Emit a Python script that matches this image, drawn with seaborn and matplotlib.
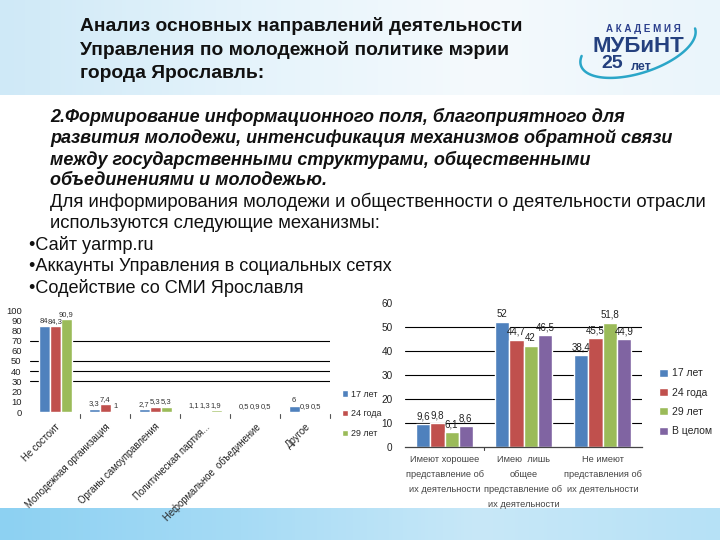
import numpy as np
import pandas as pd
import matplotlib
matplotlib.use("Agg")
import matplotlib.pyplot as plt
import seaborn as sns
from matplotlib.colors import LinearSegmentedColormap

sns.set_theme(style="white")
plt.rcParams['font.family'] = ['Liberation Sans', 'DejaVu Sans']

# ---- data ----
left_categories = ["Не состоит", "Молодежная организация", "Органы самоуправления",
                   "Политическая партия...", "Неформальное  объединение", "Другое"]
left_series = ["17 лет", "24 года", "29 лет"]
left_17 = [84, 3.3, 2.7, 1.1, 0.5, 6]
left_24 = [84.3, 7.4, 5.3, 1.3, 0.9, 0.9]
left_29 = [90.9, 1, 5.3, 1.9, 0.5, 0.5]
left_yticks = [0, 10, 20, 30, 40, 50, 60, 70, 80, 90, 100]

right_categories = ["Имеют хорошее\nпредставление об\nих деятельности",
                    "Имею  лишь\nобщее\nпредставление об\nих деятельности",
                    "Не имеют\nпредставления об\nих деятельности"]
right_series = ["17 лет", "24 года", "29 лет", "В целом"]
right_17 = [9.6, 52, 38.4]
right_24 = [9.8, 44.7, 45.5]
right_29 = [6.1, 42, 51.8]
right_all = [8.6, 46.5, 44.9]
right_yticks = [0, 10, 20, 30, 40, 50, 60]

colors = ["#4F81BD", "#C0504D", "#9BBB59", "#8064A2"]

def fmt(v):
    if float(v).is_integer():
        return str(int(v))
    return str(v).replace('.', ',')

fig = plt.figure(figsize=(7.2, 5.4), dpi=100)

# ---- background ----
bg = fig.add_axes([0, 0, 1, 1], zorder=-10)
bg.set_xlim(0, 720); bg.set_ylim(540, 0); bg.axis('off')
grad = np.linspace(0, 1, 200)[None, :]
cm_top = LinearSegmentedColormap.from_list("t", ["#cfe9f7", "#e4f3fb", "#f5fafd", "#eaf5fb"])
bg.imshow(grad, extent=[0, 720, 95, 0], cmap=cm_top, aspect='auto')
cm_bot = LinearSegmentedColormap.from_list("b", ["#8dd1f2", "#a6dbf5", "#c8e8f8", "#b6e1f6"])
bg.imshow(grad, extent=[0, 720, 540, 508], cmap=cm_bot, aspect='auto')

# ---- texts ----
title = ["Анализ основных направлений деятельности",
         "Управления по молодежной политике мэрии",
         "города Ярославль:"]
for i, t in enumerate(title):
    fig.text(80/720, 1 - (26 + i*24)/540, t, fontsize=13.9, fontweight='bold',
             color='#111111', va='center', ha='left')

body_bi = ["2.Формирование информационного поля, благоприятного для",
           "развития молодежи, интенсификация механизмов обратной связи",
           "между государственными структурами, общественными",
           "объединениями и молодежью."]
for i, t in enumerate(body_bi):
    fig.text(50/720, 1 - (117 + i*21.3)/540, t, fontsize=13.0, fontweight='bold',
             fontstyle='italic', color='#111111', va='center', ha='left')
body = ["Для информирования молодежи и общественности о деятельности отрасли",
        "используются следующие механизмы:"]
for i, t in enumerate(body):
    fig.text(50/720, 1 - (202 + i*21.3)/540, t, fontsize=13.3, color='#111111',
             va='center', ha='left')
bullets = ["•Сайт yarmp.ru", "•Аккаунты Управления в социальных сетях",
           "•Содействие со СМИ Ярославля"]
for i, t in enumerate(bullets):
    fig.text(29/720, 1 - (245 + i*21.3)/540, t, fontsize=13.1, color='#111111',
             va='center', ha='left')

# ---- logo ----
tt = np.radians(np.linspace(0, 200, 120))
phi = np.radians(-18)
a_, b_, cx, cy = 60, 26, 638, 47
ex = cx + a_*np.cos(tt)*np.cos(phi) - b_*np.sin(tt)*np.sin(phi)
ey = cy + a_*np.cos(tt)*np.sin(phi) + b_*np.sin(tt)*np.cos(phi)
bg.plot(ex, ey, color='#2aa6c8', lw=1.8, solid_capstyle='round')
bg.text(643, 29, "А К А Д Е М И Я", fontsize=7, fontweight='bold', color='#2b3f8c',
        ha='center', va='center')
bg.text(638, 46, "МУБиНТ", fontsize=16, fontweight='bold', color='#24407e',
        ha='center', va='center')
bg.text(612, 64, "25", fontsize=14, fontweight='bold', color='#24407e',
        ha='center', va='center')
bg.text(641, 67, "лет", fontsize=9, fontweight='bold', color='#24407e',
        ha='center', va='center')

# ---- left chart ----
dl = pd.DataFrame({
    "cat": left_categories * 3,
    "series": sum([[s] * len(left_categories) for s in left_series], []),
    "value": left_17 + left_24 + left_29,
})
ax1 = fig.add_axes([30/720, 1 - 412/540, 300/720, 102/540])
sns.barplot(data=dl, x="cat", y="value", hue="series", palette=colors[:3],
            width=0.66, ax=ax1, saturation=1, legend=True)
ax1.set_yticks(left_yticks)
ax1.set_yticklabels([str(v) for v in left_yticks], fontsize=6.8, color='#222222')
for y in [30, 40, 50, 70]:
    ax1.axhline(y, color='black', lw=0.8, zorder=0)
ax1.set_xlabel(""); ax1.set_ylabel("")
ax1.set_xticks(range(len(left_categories)))
ax1.set_xticklabels(left_categories, rotation=45, ha='right', rotation_mode='anchor',
                    fontsize=6.9, color='#222222')
ax1.tick_params(axis='x', length=0, pad=7)
ax1.tick_params(axis='y', length=0, pad=6)
for s in ['top', 'right', 'left', 'bottom']:
    ax1.spines[s].set_visible(False)
for k in range(1, len(left_categories) + 1):
    ax1.plot([k - 0.5, k - 0.5], [-2, -6], color='#555555', lw=0.8, clip_on=False)
for cont, vals in zip(ax1.containers, [left_17, left_24, left_29]):
    ax1.bar_label(cont, labels=[fmt(v) for v in vals], fontsize=5.5, padding=1, color='#333333')
ax1.set_xlim(-0.5, len(left_categories) - 0.5)
ax1.set_ylim(0, 100)
ax1.set_facecolor('none')
h, l = ax1.get_legend_handles_labels()
ax1.get_legend().remove()
fig.legend(h, l, loc='upper left', bbox_to_anchor=(338/720, 1 - 386/540),
           frameon=False, fontsize=6.4, handlelength=0.7, handleheight=0.7,
           labelspacing=1.2, handletextpad=0.4, borderaxespad=0)

# ---- right chart ----
dr = pd.DataFrame({
    "cat": right_categories * 4,
    "series": sum([[s] * len(right_categories) for s in right_series], []),
    "value": right_17 + right_24 + right_29 + right_all,
})
ax2 = fig.add_axes([405/720, 1 - 447/540, 237/720, 144/540])
sns.barplot(data=dr, x="cat", y="value", hue="series", palette=colors,
            width=0.72, ax=ax2, saturation=1, legend=True)
ax2.set_yticks(right_yticks)
ax2.set_yticklabels([str(v) for v in right_yticks], fontsize=7.2, color='#222222')
for y in [10, 20, 30, 40, 50]:
    ax2.axhline(y, color='black', lw=0.8, zorder=0)
ax2.set_xlabel(""); ax2.set_ylabel("")
ax2.set_xticks(range(len(right_categories)))
ax2.set_xticklabels(right_categories, fontsize=6.7, color='#444444', linespacing=1.85,
                    va='top')
ax2.tick_params(axis='x', length=0, pad=6)
ax2.tick_params(axis='y', length=0, pad=9)
for s in ['top', 'right', 'left']:
    ax2.spines[s].set_visible(False)
ax2.spines['bottom'].set_color('#444444')
ax2.spines['bottom'].set_linewidth(0.9)
ax2.plot([0.5, 0.5], [0, -1.3], color='#444444', lw=0.8, clip_on=False)
for cont, vals in zip(ax2.containers, [right_17, right_24, right_29, right_all]):
    ax2.bar_label(cont, labels=[fmt(v) for v in vals], fontsize=7, padding=2, color='#222222')
ax2.set_xlim(-0.5, len(right_categories) - 0.5)
ax2.set_ylim(0, 60)
ax2.set_facecolor('none')
h2, l2 = ax2.get_legend_handles_labels()
ax2.get_legend().remove()
fig.legend(h2, l2, loc='upper left', bbox_to_anchor=(655/720, 1 - 364/540),
           frameon=False, fontsize=7.5, handlelength=0.8, handleheight=0.8,
           labelspacing=0.9, handletextpad=0.4, borderaxespad=0)

fig.savefig("out.png", dpi=100)
